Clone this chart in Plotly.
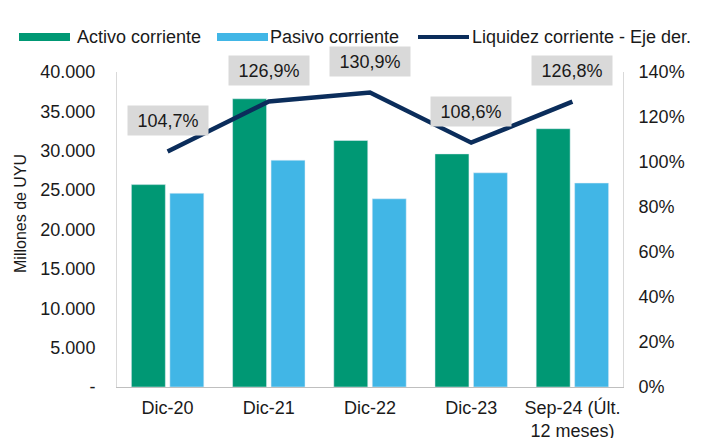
import plotly.graph_objects as go

categories = ["Dic-20", "Dic-21", "Dic-22", "Dic-23", "Sep-24 (Últ.<br>12 meses)"]
activo = [25700, 36600, 31300, 29600, 32800]
pasivo = [24600, 28800, 23900, 27200, 25900]
liquidez = [104.7, 126.9, 130.9, 108.6, 126.8]
liquidez_labels = ["104,7%", "126,9%", "130,9%", "108,6%", "126,8%"]
left_ticks = [0, 5000, 10000, 15000, 20000, 25000, 30000, 35000, 40000]
left_ticktext = ["-", "5.000", "10.000", "15.000", "20.000", "25.000", "30.000", "35.000", "40.000"]
right_ticks = [0, 20, 40, 60, 80, 100, 120, 140]
right_ticktext = ["0%", "20%", "40%", "60%", "80%", "100%", "120%", "140%"]
series_names = ["Activo corriente", "Pasivo corriente", "Liquidez corriente - Eje der."]
y_title = "Millones de UYU"

GREEN = "#009874"
BLUE = "#41B6E6"
NAVY = "#0B2D5B"
FONT = "Arial"
TXT = "#1a1a1a"

fig = go.Figure()
fig.add_trace(go.Bar(x=categories, y=activo, name=series_names[0], marker_color=GREEN, showlegend=False))
fig.add_trace(go.Bar(x=categories, y=pasivo, name=series_names[1], marker_color=BLUE, showlegend=False))
fig.add_trace(go.Scatter(x=categories, y=liquidez, name=series_names[2], showlegend=False,
                         mode="lines", line=dict(color=NAVY, width=4.5), yaxis="y2"))

for c, v, t in zip(categories, liquidez, liquidez_labels):
    fig.add_annotation(x=c, y=v, yref="y2", text=t, showarrow=False, yshift=31,
                       bgcolor="#D9D9D9", borderpad=0,
                       font=dict(size=18, color=TXT, family=FONT),
                       width=80, height=29)

# manual legend (paper coordinates)
PW, PH = 506.0, 315.0
def px(sx):
    return (sx - 117) / PW
def py(sy):
    return (387 - sy) / PH
ly = py(37)
legend_items = [
    (19, 70, 75, GREEN, 8),
    (217, 268, 268, BLUE, 8),
    (418, 469, 470, NAVY, 4),
]
for (x0, x1, tx, col, w), name in zip(legend_items, series_names):
    fig.add_shape(type="line", xref="paper", yref="paper", x0=px(x0), x1=px(x1), y0=ly, y1=ly,
                  line=dict(color=col, width=w))
    fig.add_annotation(xref="paper", yref="paper", x=px(tx), y=ly, text=name, showarrow=False,
                       xanchor="left", yanchor="middle", font=dict(size=18, color=TXT, family=FONT))

# y-axis title
fig.add_annotation(xref="paper", yref="paper", x=px(21), y=py(214), text=y_title, textangle=-90,
                   showarrow=False, xanchor="center", yanchor="middle",
                   font=dict(size=16, color=TXT, family=FONT))

fig.update_layout(
    width=695, height=430,
    margin=dict(l=109, r=80, t=64, b=51, autoexpand=False),
    paper_bgcolor="white", plot_bgcolor="white",
    font=dict(family=FONT, size=18, color=TXT),
    barmode="group", bargap=0.24, bargroupgap=0.117,
    showlegend=False,
    xaxis=dict(showline=True, linecolor="#BFBFBF", linewidth=1, ticks="", showgrid=False,
               automargin=False, tickfont=dict(size=18), ticklabelstandoff=4),
    yaxis=dict(range=[0, 40000], tickvals=left_ticks, ticktext=left_ticktext, showgrid=False,
               showline=True, linecolor="#D9D9D9", zeroline=False, ticks="", automargin=False,
               ticklabelstandoff=17, tickfont=dict(size=18)),
    yaxis2=dict(range=[0, 140], tickvals=right_ticks, ticktext=right_ticktext, overlaying="y",
                side="right", showgrid=False, showline=True, linecolor="#D9D9D9", zeroline=False,
                ticks="", automargin=False, ticklabelstandoff=11, tickfont=dict(size=18)),
)

fig.write_html("out.html")
